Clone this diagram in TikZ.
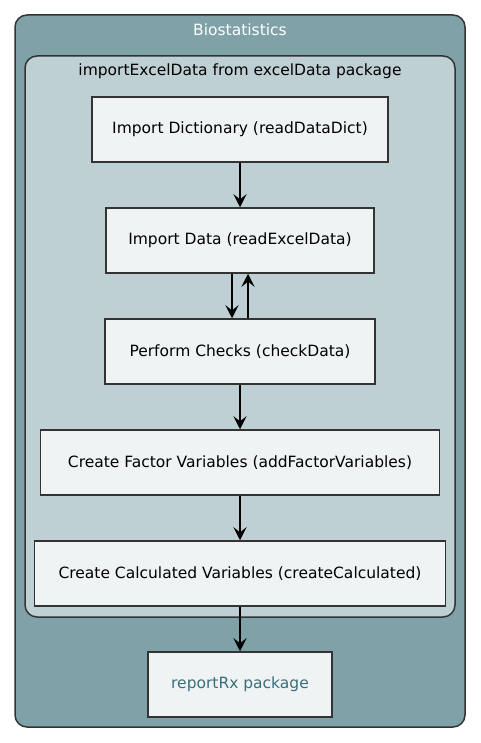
\documentclass[tikz,border=0pt]{standalone}
\usepackage{fontspec}
\setmainfont{DejaVu Sans}
\usetikzlibrary{arrows.meta}

\definecolor{outerfill}{HTML}{7FA2A9}
\definecolor{innerfill}{HTML}{BFD0D4}
\definecolor{boxfill}{HTML}{EFF3F4}
\definecolor{edgecol}{HTML}{333333}
\definecolor{pkgtext}{HTML}{3B6E7C}

\begin{document}
\begin{tikzpicture}[x=1pt, y=-1pt,
  stepbox/.style={draw=edgecol, line width=1.5pt, fill=boxfill, minimum height=65pt, inner sep=0pt, font=\fontsize{15.5}{18}\selectfont},
  flow/.style={-{Stealth[length=13pt, width=13pt, inset=5pt]}, line width=1.5pt, black}]
\useasboundingbox (0,0) rectangle (480,743);

% Khung ngoài và khung trong
\draw[edgecol, line width=1.5pt, fill=outerfill, rounded corners=12pt] (15,15) rectangle (465,727);
\draw[edgecol, line width=1.5pt, fill=innerfill, rounded corners=12pt] (25,56) rectangle (455,617);

% Tiêu đề các khung
\node[white, font=\fontsize{15.5}{18}\selectfont] (bio) at (240,30) {Biostatistics};
\node[black, font=\fontsize{15.5}{18}\selectfont] (pkg) at (240,71) {importExcelData from excelData package};

% Các bước
\node[stepbox, minimum width=296pt] (dict) at (240,129.5) {Import Dictionary (readDataDict)};
\node[stepbox, minimum width=268pt] (data) at (240,240.5) {Import Data (readExcelData)};
\node[stepbox, minimum width=270pt] (check) at (240,351.5) {Perform Checks (checkData)};
\node[stepbox, minimum width=399pt] (factor) at (240,462.5) {Create Factor Variables (addFactorVariables)};
\node[stepbox, minimum width=411pt] (calc) at (240,573.5) {Create Calculated Variables (createCalculated)};
\node[stepbox, minimum width=184pt, text=pkgtext] (report) at (240,684.5) {reportRx package};

% Mũi tên
\draw[flow] (dict) -- (data);
\draw[flow] ([xshift=-8pt]data.south) -- ([xshift=-8pt]check.north);
\draw[flow] ([xshift=8pt]check.north) -- ([xshift=8pt]data.south);
\draw[flow] (check) -- (factor);
\draw[flow] (factor) -- (calc);
\draw[flow] (calc) -- (report);
\end{tikzpicture}
\end{document}
